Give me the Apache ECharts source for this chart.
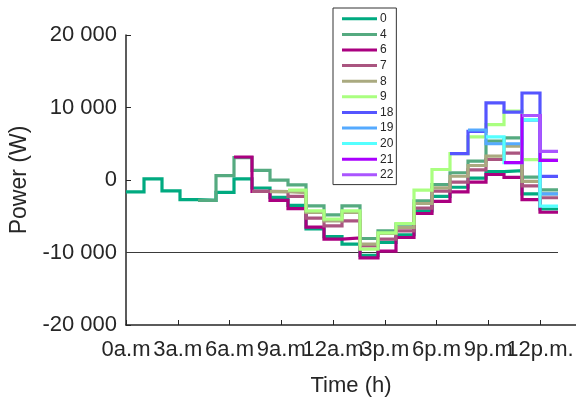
<!DOCTYPE html>
<html>
<head>
<meta charset="utf-8">
<script src="https://cdn.jsdelivr.net/npm/echarts@6/dist/echarts.min.js"></script>
<style>
  html, body { margin: 0; padding: 0; background: #fff; }
  #chart { width: 576px; height: 399px; }
</style>
</head>
<body>
<div id="chart"></div>
<script>
// ---- Data (hourly power, W); each forecast starts at the hour in its name ----
const seriesNames = ['0', '4', '6', '7', '8', '9', '18', '19', '20', '21', '22'];
const startHours  = [0, 4, 6, 7, 8, 9, 18, 19, 20, 21, 22];

const s0  = [-1650, 150, -1500, -2700, -2800, -1700, 150, -1100, -2400, -3500, -6750, -7800,
             -8850, -10400, -8600, -7550, -4250, -2250, -1000, 250, 1150, 1300, -1900, -4000];
const s4  = [-2800, 600, 3100, 1330, -30, -670, -3560, -4800, -3560, -8070, -7010, -6090,
             -2870, -620, 1000, 2600, 5350, 5820, 400, -1350];
const s6  = [3170, -1570, -2800, -3950, -6500, -8160, -8000, -10750, -9800, -7930, -4620,
             -2950, -1650, -300, 760, 350, -2700, -4450];
const s7  = [-1570, -1600, -2250, -5270, -6320, -5630, -9080, -8160, -7010, -3890, -1540,
             -300, 1400, 2830, 3700, -800, -2450];
const s8  = [-1600, -1750, -4480, -5630, -4480, -8850, -7380, -6550, -3240, -1080, 520,
             2000, 3280, 4660, -200, -1900];
const s9  = [-1400, -4250, -5400, -4250, -9540, -7300, -6000, -1400, 1450, 3650, 5950,
             7650, 9500, 2800, 2750];
const s18 = [3650, 6700, 10650, 9350, 12000, 500];
const s19 = [6900, 5000, 5000, 8250, -1900];
const s20 = [5950, 2400, 8300, -3600];
const s21 = [2400, 8900, 2700];
const s22 = [8900, 3950];
const seriesValues = [s0, s4, s6, s7, s8, s9, s18, s19, s20, s21, s22];

const limitValue = -10000;              // reference line
const dayEndHour = 24;

const xTickLabels = ['0a.m', '3a.m', '6a.m', '9a.m', '12a.m', '3p.m', '6p.m', '9p.m', '12p.m.'];
const yTicks = [-20000, -10000, 0, 10000, 20000];

// ---- Styling ----
const colors = ['#00AA80', '#55AA80', '#AA0080', '#AA5580', '#AAAA80', '#AAFF80',
                '#5555FF', '#55AAFF', '#55FFFF', '#AA00FF', '#AA55FF'];
const textColor = '#262626';
const font = 'Liberation Sans, Arial, Helvetica, sans-serif';

// x tick positions: 9 labels spread evenly over 0..23 of the hour scale
const xTickPos = xTickLabels.map((_, i) => i * 23 / (xTickLabels.length - 1));
const labelByPos = {};
xTickPos.forEach((p, i) => { labelByPos[p.toFixed(4)] = xTickLabels[i]; });
const xPosMain = xTickPos.slice(0, -1);   // labels drawn by main axis
const xPosLast = xTickPos.slice(-1);      // last label drawn by overlay axis (overlapping labels)

function fmtThousands(v) {
  if (v === 0) return '0';
  const sign = v < 0 ? '-' : '';
  const a = Math.abs(v);
  const th = Math.floor(a / 1000);
  const rest = String(a % 1000).padStart(3, '0');
  return sign + th + ' ' + rest;
}

const series = seriesNames.map((name, k) => {
  const vals = seriesValues[k];
  const st = startHours[k];
  const data = vals.map((v, i) => [st + i, v]);
  data.push([st + vals.length, vals[vals.length - 1]]);
  return {
    name: name,
    type: 'line',
    step: 'end',
    data: data,
    showSymbol: false,
    symbol: 'none',
    color: colors[k],
    lineStyle: { width: 3.2, color: colors[k], join: 'miter', cap: 'butt' },
    z: 3 + k * 0.01,
    animation: false
  };
});

series.unshift({
  name: 'limit',
  type: 'line',
  data: [[0, limitValue], [dayEndHour, limitValue]],
  showSymbol: false,
  symbol: 'none',
  lineStyle: { width: 1, color: '#3a3a3a' },
  z: 2,
  silent: true,
  animation: false
});

const xLabelStyle = {
  margin: 14,
  fontSize: 22,
  color: textColor,
  fontFamily: font,
  hideOverlap: false,
  showMinLabel: true,
  showMaxLabel: true,
  formatter: (v) => labelByPos[Number(v).toFixed(4)] || ''
};

const chart = echarts.init(document.getElementById('chart'), null, { renderer: 'canvas' });
chart.setOption({
  animation: false,
  backgroundColor: '#fff',
  textStyle: { fontFamily: font },
  grid: { left: 126, top: 35, right: 0, bottom: 74, containLabel: false, outerBoundsMode: 'none' },
  legend: {
    data: seriesNames,
    orient: 'vertical',
    left: 333,
    top: 8,
    padding: [3, 3, 2, 9],
    itemGap: 0,
    itemWidth: 35,
    itemHeight: 3,
    icon: 'rect',
    backgroundColor: '#fff',
    borderColor: '#333',
    borderWidth: 1,
    borderRadius: 0,
    selectedMode: false,
    textStyle: { fontSize: 12, color: textColor, fontFamily: font, lineHeight: 15.6, padding: [0, 0, 0, -2] }
  },
  xAxis: [{
    type: 'value',
    min: 0,
    max: 25,
    position: 'bottom',
    name: 'Time (h)',
    nameLocation: 'middle',
    nameGap: 50,
    nameTextStyle: { fontSize: 22, color: textColor, fontFamily: font },
    splitLine: { show: false },
    axisLine: { show: true, onZero: false, lineStyle: { color: textColor, width: 1.5 } },
    axisTick: { show: true, inside: true, length: 5, customValues: xTickPos,
                lineStyle: { color: textColor, width: 1 } },
    axisLabel: Object.assign({ customValues: xPosMain }, xLabelStyle)
  }, {
    type: 'value',
    min: 0,
    max: 25,
    position: 'bottom',
    offset: 0,
    splitLine: { show: false },
    axisLine: { show: false, onZero: false },
    axisTick: { show: false },
    axisLabel: Object.assign({ customValues: xPosLast }, xLabelStyle)
  }],
  yAxis: {
    type: 'value',
    min: -20000,
    max: 20000,
    interval: 10000,
    name: 'Power (W)',
    nameLocation: 'middle',
    nameGap: 91,
    nameRotate: 90,
    nameTextStyle: { fontSize: 23, color: textColor, fontFamily: font },
    splitLine: { show: false },
    axisLine: { show: true, onZero: false, lineStyle: { color: textColor, width: 1.5 } },
    axisTick: { show: true, inside: true, length: 5, customValues: yTicks,
                lineStyle: { color: textColor, width: 1 } },
    axisLabel: {
      customValues: yTicks,
      showMinLabel: true,
      showMaxLabel: true,
      margin: 9,
      fontSize: 22,
      color: textColor,
      fontFamily: font,
      formatter: fmtThousands
    }
  },
  series: series
});
</script>
</body>
</html>
